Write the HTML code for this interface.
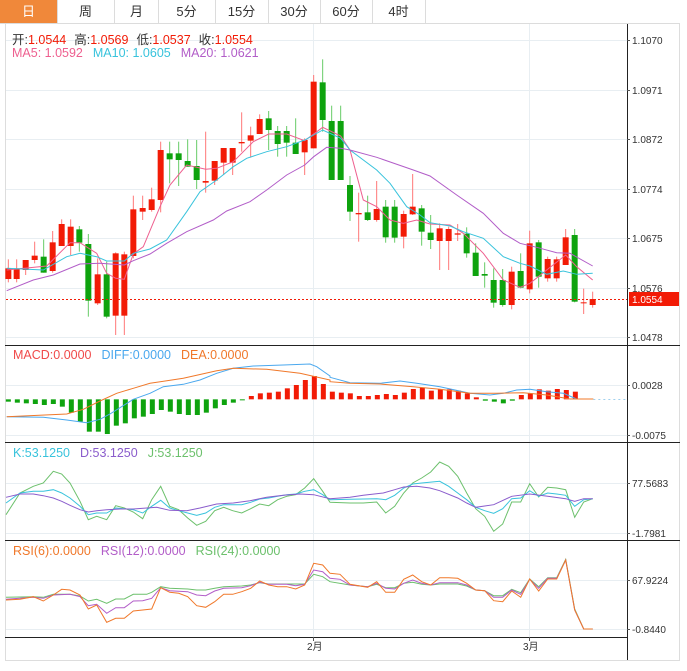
<!DOCTYPE html>
<html><head><meta charset="utf-8">
<style>
html,body{margin:0;padding:0;background:#fff;width:687px;height:671px;overflow:hidden}
body{font-family:"Liberation Sans","Noto Sans CJK SC",sans-serif}
.tabs{position:absolute;left:0;top:0;height:23px;width:680px;border-bottom:1px solid #dcdcdc}
.tab{position:absolute;top:0;height:23px;line-height:23px;text-align:center;font-size:13px;color:#333;border-right:1px solid #dcdcdc}
</style></head><body>
<div class="tabs">
<div class="tab" style="left:0;width:57px;background:#f0883a;color:#fff">日</div>
<div class="tab" style="left:57px;width:57px">周</div>
<div class="tab" style="left:115px;width:43px">月</div>
<div class="tab" style="left:158px;width:57px">5分</div>
<div class="tab" style="left:215px;width:53px">15分</div>
<div class="tab" style="left:268px;width:52px">30分</div>
<div class="tab" style="left:320px;width:52px">60分</div>
<div class="tab" style="left:372px;width:53px">4时</div>
</div>
<svg id="s" width="687" height="671" style="position:absolute;left:0;top:0" xmlns="http://www.w3.org/2000/svg" font-family="Liberation Sans, Noto Sans CJK SC, sans-serif">
<g stroke="#e8eef2" stroke-width="1">
<line x1="6" y1="40.5" x2="627" y2="40.5"/><line x1="6" y1="90.5" x2="627" y2="90.5"/><line x1="6" y1="139.5" x2="627" y2="139.5"/><line x1="6" y1="189.5" x2="627" y2="189.5"/><line x1="6" y1="238.5" x2="627" y2="238.5"/><line x1="6" y1="288.5" x2="627" y2="288.5"/><line x1="6" y1="337.5" x2="627" y2="337.5"/>
<line x1="6" y1="385.5" x2="627" y2="385.5"/><line x1="6" y1="435.5" x2="627" y2="435.5"/>
<line x1="6" y1="483.5" x2="627" y2="483.5"/><line x1="6" y1="533.5" x2="627" y2="533.5"/>
<line x1="6" y1="580.5" x2="627" y2="580.5"/><line x1="6" y1="629.5" x2="627" y2="629.5"/>
<line x1="313.5" y1="24" x2="313.5" y2="637"/><line x1="529.5" y1="24" x2="529.5" y2="637"/>
</g>
<g stroke="#ddd"><line x1="5.5" y1="24" x2="5.5" y2="660"/><line x1="679.5" y1="24" x2="679.5" y2="660"/><line x1="5" y1="660.5" x2="680" y2="660.5"/></g>
<g stroke="#222"><line x1="627.5" y1="24" x2="627.5" y2="660"/><line x1="5" y1="345.5" x2="680" y2="345.5"/><line x1="5" y1="442.5" x2="680" y2="442.5"/><line x1="5" y1="540.5" x2="680" y2="540.5"/><line x1="5" y1="637.5" x2="627" y2="637.5"/></g>
<g id="plot"></g>
<g font-size="10" fill="#333">
<text x="632" y="44">1.1070</text><text x="632" y="94">1.0971</text><text x="632" y="143">1.0872</text><text x="632" y="193">1.0774</text><text x="632" y="242">1.0675</text><text x="632" y="292">1.0576</text><text x="632" y="341">1.0478</text>
<text x="632" y="389">0.0028</text><text x="632" y="439">-0.0075</text>
<text x="632" y="487">77.5683</text><text x="632" y="537">-1.7981</text>
<text x="632" y="584">67.9224</text><text x="632" y="633">-0.8440</text>
<text x="307" y="650">2月</text><text x="523" y="650">3月</text>
</g>
<g stroke="#555"><line x1="627" y1="40.5" x2="630" y2="40.5"/><line x1="627" y1="90.5" x2="630" y2="90.5"/><line x1="627" y1="139.5" x2="630" y2="139.5"/><line x1="627" y1="189.5" x2="630" y2="189.5"/><line x1="627" y1="238.5" x2="630" y2="238.5"/><line x1="627" y1="288.5" x2="630" y2="288.5"/><line x1="627" y1="337.5" x2="630" y2="337.5"/><line x1="627" y1="385.5" x2="630" y2="385.5"/><line x1="627" y1="435.5" x2="630" y2="435.5"/><line x1="627" y1="483.5" x2="630" y2="483.5"/><line x1="627" y1="533.5" x2="630" y2="533.5"/><line x1="627" y1="580.5" x2="630" y2="580.5"/><line x1="627" y1="629.5" x2="630" y2="629.5"/><line x1="313.5" y1="637" x2="313.5" y2="641"/><line x1="529.5" y1="637" x2="529.5" y2="641"/></g>
<rect x="629" y="292" width="50" height="14" fill="#f21b06"/><text x="632" y="303" font-size="10" fill="#fff">1.0554</text>
<line x1="6" y1="299.5" x2="627" y2="299.5" stroke="#f21b06" stroke-dasharray="2,2"/>
<g font-size="12.5">
<text x="12" y="44"><tspan fill="#333">开:</tspan><tspan fill="#f21b06">1.0544</tspan><tspan fill="#333" dx="8">高:</tspan><tspan fill="#f21b06">1.0569</tspan><tspan fill="#333" dx="8">低:</tspan><tspan fill="#f21b06">1.0537</tspan><tspan fill="#333" dx="8">收:</tspan><tspan fill="#f21b06">1.0554</tspan></text>
<text x="12" y="57"><tspan fill="#ee5f8f">MA5: 1.0592</tspan><tspan fill="#38c3dc" dx="10">MA10: 1.0605</tspan><tspan fill="#b25dc8" dx="10">MA20: 1.0621</tspan></text>
<text x="13" y="359"><tspan fill="#f04a4a">MACD:0.0000</tspan><tspan fill="#4aa8ee" dx="10">DIFF:0.0000</tspan><tspan fill="#f0782a" dx="10">DEA:0.0000</tspan></text>
<text x="13" y="457"><tspan fill="#38c3dc">K:53.1250</tspan><tspan fill="#8a5ccc" dx="10">D:53.1250</tspan><tspan fill="#6cc06c" dx="10">J:53.1250</tspan></text>
<text x="13" y="555"><tspan fill="#f0782a">RSI(6):0.0000</tspan><tspan fill="#b25dc8" dx="10">RSI(12):0.0000</tspan><tspan fill="#6cc06c" dx="10">RSI(24):0.0000</tspan></text>
</g>
</svg>
<script>
var R='#f21b06',G='#0ea30e',NS='http://www.w3.org/2000/svg',P=document.getElementById('plot');
function el(t,a){var e=document.createElementNS(NS,t);for(var k in a)e.setAttribute(k,a[k]);P.appendChild(e);return e;}
var C=[[25,655,687,628,697,R],[50,655,687,628,697,R],[77,630,660,630,675,R],[104,617,630,575,640,R],[131,620,668,568,668,G],[158,577,663,543,668,R],[185,522,588,508,588,R],[212,530,588,508,615,R],[238,538,578,528,605,G],[265,582,752,552,800,G],[293,673,760,625,765,R],[320,673,800,635,805,G],[347,610,797,607,855,R],[373,613,797,605,855,R],[400,478,618,437,625,R],[428,474,485,437,510,R],[455,448,480,413,485,R],[482,300,450,275,487,R],[509,310,328,275,400,G],[536,310,330,275,408,G],[563,333,350,268,350,G],[590,348,390,270,417,G],[617,393,398,245,428,R],[644,333,392,333,405,R],[671,294,338,294,375,R],[698,294,338,294,375,R],[725,276,280,187,305,R],[752,256,272,230,323,R],[779,207,252,193,252,R],[806,205,240,183,300,G],[833,243,282,228,320,G],[860,243,278,228,320,G],[887,278,312,205,312,G],[914,270,307,265,375,R],[941,95,295,75,295,R],[968,97,210,28,245,G],[995,213,390,167,390,G],[1022,213,390,167,390,G]];
var C3=[[60,405,485,378,513,G],[86,489,493,428,575,R],[113,487,510,437,513,G],[140,477,510,393,515,R],[167,470,562,450,578,G],[194,470,563,450,578,G],[221,492,560,482,595,R],[248,470,493,372,495,R],[275,475,545,465,587,G],[302,548,570,495,597,G],[329,535,573,520,660,R],[356,537,573,530,660,R],[383,550,554,522,573,R],[410,551,610,532,623,G],[437,608,678,580,678,G],[464,672,677,637,713,G],[491,690,758,655,773,G],[518,690,765,657,770,G],[545,665,765,650,778,R],[572,663,713,610,715,G],[599,580,718,542,730,R],[626,577,680,570,713,G],[653,627,685,620,695,R],[680,628,685,620,695,R],[707,562,645,537,645,R],[734,555,755,537,757,G],[761,757,759,716,792,R],[788,747,765,725,773,R]];
C3.forEach(function(c){c[0]+=990;C.push(c);});
C.forEach(function(c){var x=c[0]/3,t=50+c[1]/3,b=50+c[2]/3;
el('line',{x1:x,x2:x,y1:50+c[3]/3,y2:50+c[4]/3,stroke:c[5]==R?'#f77':'#6c6','stroke-width':1});
el('rect',{x:x-3,y:t,width:6,height:Math.max(1,b-t),fill:c[5]});});
function line(pts,base,col,off){var s=pts.map(function(p){return ((p[0]+(off||0))/3).toFixed(1)+','+(base+p[1]/3).toFixed(1)}).join(' ');el('polyline',{points:s,fill:'none',stroke:col,'stroke-width':1});}
function L(a,b,base,col){line(a.concat(b.map(function(p){return [p[0]+990,p[1]]})),base,col);}
L([[20,660],[140,648],[210,578],[240,578],[290,610],[320,670],[347,685],[373,688],[400,612],[430,590],[480,470],[510,405],[560,345],[617,358],[650,355],[700,335],[725,310],[760,275],[806,252],[860,252],[914,272],[968,232],[1022,258]],[[60,300],[100,450],[140,470],[180,510],[220,520],[260,510],[300,522],[360,525],[400,550],[460,610],[520,690],[570,712],[600,700],[650,660],[707,615],[740,650],[788,690]],50,'#ee5f8f');
L([[20,655],[130,660],[200,620],[240,610],[290,620],[320,633],[373,633],[400,610],[450,597],[500,570],[560,485],[600,425],[650,390],[700,350],[740,325],[800,305],[860,290],[914,270],[941,255],[968,240],[1022,265]],[[60,300],[140,360],[180,400],[230,470],[270,495],[300,518],[360,528],[400,545],[460,565],[520,620],[570,640],[600,648],[650,673],[700,663],[740,673],[788,670]],50,'#38c3dc');
L([[20,722],[100,690],[160,675],[240,642],[300,640],[373,645],[400,632],[450,612],[500,580],[560,545],[640,510],[680,483],[750,455],[800,420],[860,375],[914,345],[941,320],[980,292],[1022,295]],[[60,300],[140,322],[250,360],[300,378],[380,435],[460,490],[520,550],[570,580],[620,592],[680,608],[720,610],[788,648]],50,'#b25dc8');
var M=[185,188,190,192,195,192,200,218,245,275,275,282,257,250,235,230,222,210,215,222,225,225,218,205,195,188,180,168,160,158,155,145,135,120,108,132,155,158,160,168,168,165,162,165,158,147,143,152,148,148,152,160,172,182,185,190,182,165,160,148,152,147,150,155];
M.forEach(function(v,i){var x=(25+27*i)/3,z=340+178/3,y=340+v/3;var up=v<178;if(i>=53&&i<=56)up=false;
el('rect',{x:x-2.5,y:Math.min(y,z),width:5,height:Math.max(1,Math.abs(y-z)),fill:up?R:G});});
el('line',{x1:(990+790)/3,x2:627,y1:399.5,y2:399.5,stroke:'#9fd0ee','stroke-dasharray':'2,3'});
L([[20,230],[130,232],[200,240],[260,248],[300,238],[330,222],[400,178],[450,160],[490,140],[550,133],[600,120],[650,100],[700,85],[760,78],[850,75],[930,72],[950,80],[990,108]],[[0,112],[60,128],[150,130],[210,123],[260,130],[330,140],[420,160],[480,165],[520,160],[560,150],[600,148],[650,155],[700,160],[740,177],[790,177]],340,'#4aa8ee');
L([[20,230],[200,222],[250,208],[300,183],[350,160],[400,145],[450,130],[550,115],[650,92],[700,85],[800,88],[900,100],[990,120]],[[0,125],[60,130],[150,132],[250,140],[330,148],[420,160],[500,160],[580,158],[650,165],[720,177],[790,177]],340,'#f0782a');
L([[18,230],[60,165],[100,145],[130,135],[160,100],[185,108],[210,135],[240,190],[265,245],[290,235],[320,245],[347,203],[373,210],[400,222],[428,242],[455,185],[482,145],[509,205],[536,215],[563,240],[590,262],[617,250],[644,218],[671,208],[698,218],[725,225],[752,212],[779,198],[806,203],[833,185],[860,175],[887,170],[914,150],[941,122],[968,160],[990,193]],[[60,195],[100,195],[140,192],[167,225],[194,205],[221,165],[248,135],[275,120],[302,102],[329,72],[356,85],[383,115],[410,165],[437,212],[464,235],[491,280],[518,258],[545,192],[572,192],[599,137],[626,177],[653,148],[680,150],[707,155],[734,238],[761,192],[788,182]],438,'#6cc06c');
L([[18,195],[60,165],[100,160],[130,160],[160,155],[185,165],[210,180],[240,205],[265,230],[290,225],[320,225],[347,210],[373,212],[400,215],[428,225],[455,205],[482,187],[509,210],[536,218],[563,225],[590,232],[617,225],[644,208],[671,200],[698,200],[725,200],[752,193],[779,183],[806,180],[833,175],[860,170],[887,168],[914,160],[941,155],[968,170],[990,185]],[[60,184],[100,183],[140,182],[167,185],[194,172],[221,150],[248,138],[275,135],[329,130],[356,145],[383,165],[410,185],[437,208],[464,218],[491,226],[518,212],[545,182],[572,180],[599,158],[626,175],[653,165],[680,168],[707,172],[734,205],[761,185],[788,182]],438,'#38c3dc');
L([[18,178],[60,168],[100,168],[130,173],[160,180],[185,190],[210,202],[240,215],[265,222],[290,218],[320,215],[360,213],[400,213],[440,210],[470,208],[509,217],[560,218],[600,210],[650,198],[700,195],[750,188],[800,178],[850,172],[900,168],[941,170],[990,182]],[[60,178],[100,172],[160,165],[194,155],[221,147],[260,145],[300,150],[329,158],[383,180],[410,195],[437,208],[491,200],[545,175],[599,168],[653,175],[707,182],[734,190],[761,182],[788,182]],438,'#8a5ccc');
L([[18,187],[100,185],[130,187],[160,178],[210,178],[240,183],[265,198],[290,193],[320,205],[347,192],[373,192],[400,178],[440,178],[455,172],[482,155],[509,160],[563,162],[590,165],[617,165],[644,160],[671,155],[725,153],[752,150],[779,143],[806,147],[860,147],[914,147],[941,118],[968,125],[990,140]],[[60,150],[113,155],[140,148],[167,158],[194,158],[221,145],[248,142],[275,148],[302,150],[329,147],[383,147],[410,153],[437,165],[464,167],[491,182],[518,182],[545,163],[572,173],[599,132],[626,155],[653,128],[680,128],[707,73],[734,222],[761,282],[788,282]],535,'#6cc06c');
L([[18,193],[100,187],[130,190],[160,180],[210,178],[240,185],[265,212],[290,208],[320,235],[347,218],[373,218],[400,198],[428,197],[455,190],[482,158],[509,167],[563,170],[590,180],[617,182],[644,168],[671,160],[725,158],[752,152],[779,142],[806,148],[860,148],[887,152],[914,148],[941,105],[968,110],[990,130]],[[30,133],[60,150],[113,155],[140,145],[167,160],[194,162],[221,145],[248,135],[275,145],[302,150],[329,143],[383,143],[410,150],[437,165],[464,167],[491,187],[518,187],[545,165],[572,178],[599,133],[626,160],[653,130],[680,130],[707,75],[734,225],[761,282],[788,282]],535,'#b25dc8');
L([[18,195],[60,193],[100,185],[130,198],[160,180],[185,163],[210,165],[240,180],[265,222],[290,210],[320,262],[347,250],[373,250],[400,228],[428,225],[455,222],[482,158],[509,172],[536,175],[563,185],[590,212],[617,217],[644,200],[671,178],[698,178],[725,170],[752,160],[779,138],[806,150],[833,155],[860,155],[887,162],[914,150],[941,85],[968,90],[990,115]],[[30,118],[60,148],[113,157],[140,140],[167,172],[194,172],[221,133],[248,120],[275,140],[302,150],[329,128],[356,128],[383,130],[410,145],[437,165],[464,167],[491,197],[518,200],[545,168],[572,187],[599,132],[626,168],[653,132],[680,132],[707,75],[734,225],[761,282],[788,282]],535,'#f0782a');
</script>
</body></html>
